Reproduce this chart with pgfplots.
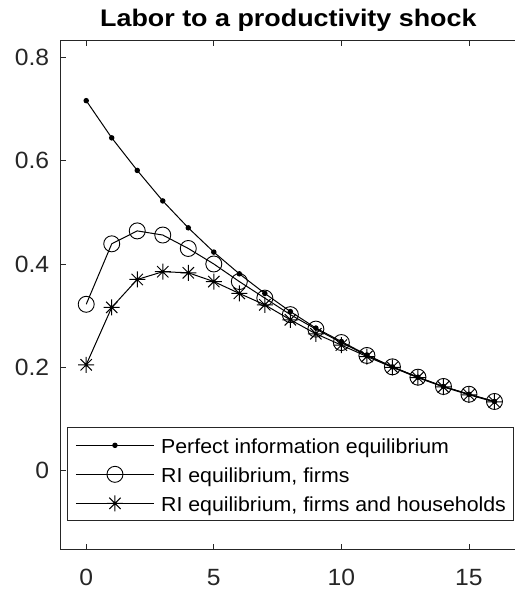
\documentclass[border=0pt]{standalone}
\usepackage{pgfplots}
\pgfplotsset{compat=1.18}
\usepackage{pgfplotstable}
\usepackage{fontspec}
\setmainfont{Liberation Sans}[FakeStretch=1.05]
\newfontfamily\titlefont{Liberation Sans}[FakeStretch=1.12]
\definecolor{axgray}{RGB}{38,38,38}
\pgfdeclareplotmark{mstar}{%
  \pgfpathmoveto{\pgfqpoint{0pt}{\pgfplotmarksize}}%
  \pgfpathlineto{\pgfqpoint{0pt}{-\pgfplotmarksize}}%
  \pgfpathmoveto{\pgfqpoint{\pgfplotmarksize}{0pt}}%
  \pgfpathlineto{\pgfqpoint{-\pgfplotmarksize}{0pt}}%
  \pgfpathmoveto{\pgfqpoint{0.707\pgfplotmarksize}{0.707\pgfplotmarksize}}%
  \pgfpathlineto{\pgfqpoint{-0.707\pgfplotmarksize}{-0.707\pgfplotmarksize}}%
  \pgfpathmoveto{\pgfqpoint{0.707\pgfplotmarksize}{-0.707\pgfplotmarksize}}%
  \pgfpathlineto{\pgfqpoint{-0.707\pgfplotmarksize}{0.707\pgfplotmarksize}}%
  \pgfusepathqstroke}

\pgfplotstableread{
t  pi     rif    rifh
0  0.716  0.322  0.205
1  0.644  0.439  0.316
2  0.581  0.464  0.370
3  0.522  0.456  0.385
4  0.470  0.430  0.383
5  0.423  0.400  0.366
6  0.381  0.366  0.343
7  0.343  0.334  0.321
8  0.308  0.302  0.292
9  0.276  0.274  0.265
10 0.250  0.248  0.243
11 0.224  0.223  0.221
12 0.201  0.201  0.200
13 0.181  0.181  0.180
14 0.163  0.163  0.162
15 0.148  0.148  0.147
16 0.134  0.134  0.133
}\datatable

\begin{document}
\begin{tikzpicture}
\begin{axis}[
  at={(0bp,0bp)}, anchor=south west,
  scale only axis,
  width=459.3bp, height=508.6bp,
  xmin=-1, xmax=17,
  ymin=-0.152, ymax=0.832,
  xtick={0,5,10,15},
  ytick={0,0.2,0.4,0.6,0.8},
  /pgf/number format/assume math mode=true,
  /pgf/number format/fixed,
  tick align=inside,
  major tick length=5bp,
  axis line style={axgray, line width=0.9bp},
  tick style={axgray, line width=0.9bp},
  ticklabel style={font=\fontsize{23.5bp}{27bp}\selectfont, text=axgray},
  xticklabel style={inner sep=0pt, yshift=-19.5bp},
  yticklabel style={inner sep=0pt, xshift=-11.4bp},
  title={Labor to a productivity shock},
  title style={font=\titlefont\bfseries\fontsize{24bp}{28bp}\selectfont, at={(0.5,1)}, anchor=base, yshift=8.4bp, inner sep=0pt, xshift=-2bp},
  legend image code/.code={\draw[mark repeat=2,mark phase=2,#1] plot coordinates {(0bp,0bp) (39bp,0bp) (78bp,0bp)};},
  legend cell align=left,
  legend style={at={(0.0144,0.2397)}, anchor=north west, draw=axgray, line width=0.9bp, fill=white,
    font=\fontsize{20.3bp}{24bp}\selectfont, inner xsep=7.7bp, inner ysep=3bp, row sep=0bp, column sep=6.7bp,
    nodes={inner sep=0pt, text height=23bp, text depth=6bp}},
]
\addplot[black, line width=1bp, mark=*, mark size=2.2bp, mark options={solid, fill=black}] table[x=t, y=pi] {\datatable};
\addlegendentry{Perfect information equilibrium}
\addplot[black, line width=1bp, mark=o, mark size=8bp, mark options={solid, line width=0.9bp}] table[x=t, y=rif] {\datatable};
\addlegendentry{RI equilibrium, firms}
\addplot[black, line width=1bp, mark=mstar, mark size=8bp, mark options={solid, line width=1bp}] table[x=t, y=rifh] {\datatable};
\addlegendentry{RI equilibrium, firms and households}
\end{axis}
\pgfresetboundingbox
\useasboundingbox (-60.7bp,-40.7bp) rectangle (454.3bp,549.3bp);
\end{tikzpicture}
\end{document}
